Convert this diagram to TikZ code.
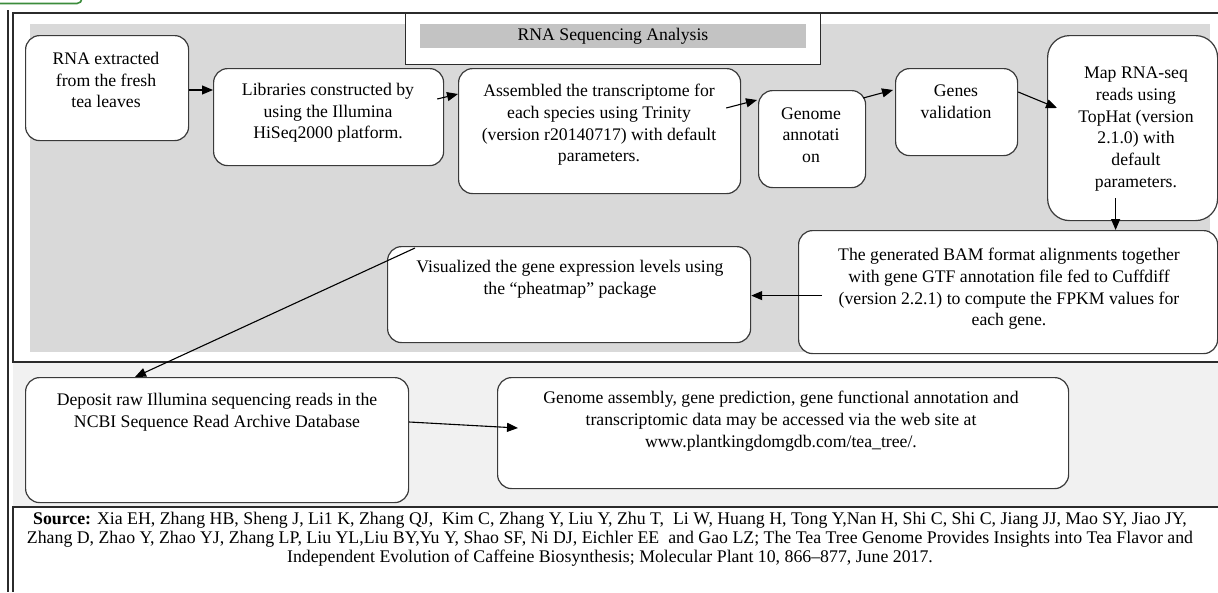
\documentclass[tikz,border=0pt]{standalone}
\usepackage{fontspec}
\setmainfont{Liberation Serif}
\usetikzlibrary{arrows.meta,calc}
\definecolor{panel}{HTML}{D9D9D9}
\definecolor{barcol}{HTML}{C3C3C3}
\definecolor{lowarea}{HTML}{F1F1F1}
\definecolor{edgecol}{HTML}{3A3A3A}
\definecolor{framecol}{HTML}{2B2B2B}
\definecolor{tagcol}{HTML}{3C8C3C}
\tikzset{
  box/.style={draw=edgecol, line width=1.2pt, fill=white, rounded corners=14pt, anchor=north west, inner sep=0pt},
  txt/.style={align=center, font=\fontsize{17.7}{21.7}\selectfont, inner sep=0pt},
  arr/.style={draw=black, line width=1.1pt, -{Triangle[length=11pt,width=9pt]}},
  frameline/.style={draw=framecol, line width=1.2pt},
}
\begin{document}
\begin{tikzpicture}[x=1pt,y=-1pt]
\useasboundingbox (0,0) rectangle (1218,592);
% green tag (cropped)
\begin{scope}
  \clip (0,0) rectangle (1218,592);
  \draw[tagcol, line width=1.6pt, rounded corners=5pt] (-10,-20) rectangle (82,3.5);
\end{scope}
% areas and frames
\fill[lowarea] (13,362) rectangle (1218,507);
\fill[white] (13,13) rectangle (1218,362);
\fill[panel] (30,24) rectangle (1210,352);
\draw[frameline] (1218,13) -- (13,13) -- (13,362) -- (1218,362);
\draw[frameline] (8,10) -- (8,592);
\draw[frameline] (1218,507) -- (13,507) -- (13,592);
% title
\node[draw=framecol, line width=1.2pt, fill=white, minimum width=415pt, minimum height=51pt, anchor=north west, inner sep=0pt] (titlebox) at (405,13) {};
\node[fill=barcol, minimum width=386pt, minimum height=24pt, inner sep=0pt, anchor=north west] (tbar) at (420,24) {};
\node[txt] (title) at (613,36) {RNA Sequencing Analysis};
% boxes
\node[box, minimum width=163pt, minimum height=105pt] (n1) at (25,35) {};
\node[box, minimum width=230pt, minimum height=97pt] (n2) at (213,68) {};
\node[box, minimum width=282pt, minimum height=125pt] (n3) at (458,68) {};
\node[box, minimum width=107pt, minimum height=97pt] (n4) at (758,90) {};
\node[box, minimum width=122pt, minimum height=87pt] (n5) at (895,68) {};
\node[box, rounded corners=22pt, minimum width=170pt, minimum height=185pt] (n6) at (1047,35) {};
\node[box, minimum width=419pt, minimum height=123pt] (n7) at (798,230) {};
\node[box, minimum width=363pt, minimum height=96pt] (n8) at (387,246) {};
\node[box, minimum width=383pt, minimum height=125pt] (n9) at (25,377) {};
\node[box, minimum width=571pt, minimum height=111pt] (n10) at (497,377) {};
% texts
\node[txt] (t1) at (106,80) {RNA extracted\\from the fresh\\tea leaves};
\node[txt] (t2) at (328,113) {Libraries constructed by\\using the Illumina\\HiSeq2000 platform.};
\node[txt] (t3) at (599,125) {Assembled the transcriptome for\\each species using Trinity\\(version r20140717) with default\\parameters.};
\node[txt] (t4) at (811,135) {Genome\\annotati\\on};
\node[txt] (t5) at (956,102) {Genes\\validation};
\node[txt] (t6) at (1136,129) {Map RNA-seq\\reads using\\TopHat (version\\2.1.0) with\\default\\parameters.};
\node[txt] (t7) at (1009,289) {The generated BAM format alignments together\\with gene GTF annotation file fed to Cuffdiff\\(version 2.2.1) to compute the FPKM values for\\each gene.};
\node[txt] (t8) at (570,279) {Visualized the gene expression levels using\\the ``pheatmap'' package};
\node[txt] (t9) at (217,412) {Deposit raw Illumina sequencing reads in the\\NCBI Sequence Read Archive Database};
\node[txt] (t10) at (781,421) {Genome assembly, gene prediction, gene functional annotation and\\transcriptomic data may be accessed via the web site at\\www.plantkingdomgdb.com/tea\_tree/.};
% source
\node[align=center, inner sep=0pt, font=\fontsize{17.8}{19}\selectfont] (src) at (610,539) {\textbf{Source:} Xia EH, Zhang HB, Sheng J, Li1 K, Zhang QJ,\ \ Kim C, Zhang Y, Liu Y, Zhu T,\ \ Li W, Huang H, Tong Y,Nan H, Shi C, Shi C, Jiang JJ, Mao SY, Jiao JY,\\Zhang D, Zhao Y, Zhao YJ, Zhang LP, Liu YL,Liu BY,Yu Y, Shao SF, Ni DJ, Eichler EE\ \ and Gao LZ; The Tea Tree Genome Provides Insights into Tea Flavor and\\Independent Evolution of Caffeine Biosynthesis; Molecular Plant 10, 866--877, June 2017.};
% connectors
\draw[arr] ($(n1.north east)+(0,55)$) -- ($(n2.north west)+(0,22)$);
\draw[arr] ($(n2.north east)+(-7,31)$) -- ($(n3.north west)+(0,26)$);
\draw[arr] ($(n3.north east)+(-15,40)$) -- ($(n4.north west)+(-1,10)$);
\draw[arr] ($(n4.north east)+(-3,8)$) -- ($(n5.north west)+(-2,22)$);
\draw[arr] ($(n5.north east)+(0,24)$) -- ($(n6.north west)+(10,73)$);
\coordinate (a6s) at ($(n6.south)+(-17,-23)$);
\draw[arr] (a6s) -- (a6s |- n7.north);
\coordinate (a7s) at ($(n7.west)+(24,3.5)$);
\draw[arr] (a7s) -- (a7s -| n8.east);
\draw[arr] ($(n8.north west)+(28,2)$) -- ($(n9.north west)+(110,0)$);
\draw[arr] ($(n9.north east)+(0,45)$) -- ($(n10.north west)+(21,51)$);
\end{tikzpicture}
\end{document}
